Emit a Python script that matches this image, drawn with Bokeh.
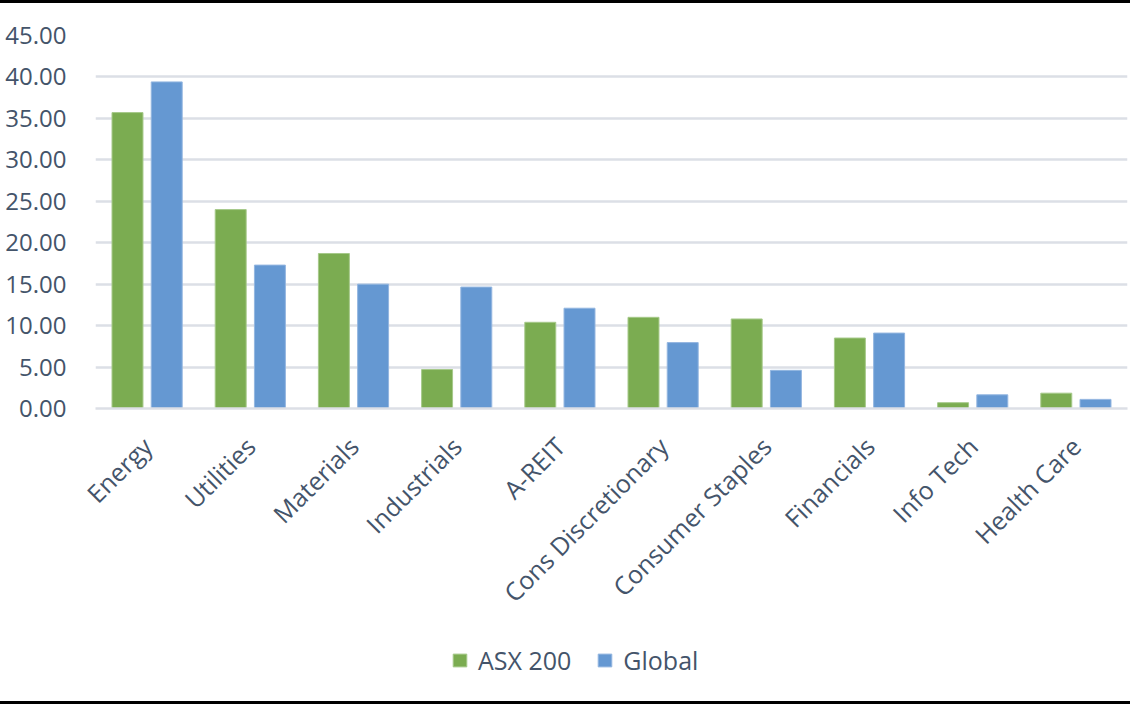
from bokeh.plotting import figure
from bokeh.models import ColumnDataSource, FactorRange, Range1d, NumeralTickFormatter, FixedTicker, Legend, LegendItem, Div
from bokeh.layouts import column
from bokeh.transform import dodge
from bokeh.embed import file_html
from bokeh.resources import INLINE
import math

categories = ["Energy", "Utilities", "Materials", "Industrials", "A-REIT",
              "Cons Discretionary", "Consumer Staples", "Financials", "Info Tech", "Health Care"]
asx200 = [35.7, 24.0, 18.7, 4.7, 10.4, 11.0, 10.8, 8.5, 0.7, 1.85]
global_ = [39.4, 17.3, 15.0, 14.65, 12.1, 7.95, 4.6, 9.1, 1.65, 1.1]
y_ticks = [0, 5, 10, 15, 20, 25, 30, 35, 40, 45]
series_names = ["ASX 200", "Global"]

FONT = "Open Sans"
TXT = "#44546A"
GREEN = "#7BAC51"
BLUE = "#6598D2"
GREEN_EDGE = "#A6C98A"
BLUE_EDGE = "#93B6E0"

src = ColumnDataSource(dict(cat=categories, asx=asx200, glob=global_))

p = figure(width=1130, height=620, x_range=FactorRange(*categories),
           y_range=Range1d(0, 45), output_backend="svg", toolbar_location=None,
           min_border_left=95, min_border_right=3, min_border_top=32, min_border_bottom=215)
p.outline_line_color = None
p.background_fill_color = "white"

r1 = p.vbar(x=dodge("cat", -0.19, range=p.x_range), top="asx", width=0.30, source=src,
            fill_color=GREEN, line_color=GREEN_EDGE, line_width=1)
r2 = p.vbar(x=dodge("cat", 0.19, range=p.x_range), top="glob", width=0.30, source=src,
            fill_color=BLUE, line_color=BLUE_EDGE, line_width=1)

p.xgrid.grid_line_color = None
p.ygrid.grid_line_color = "#DCDFE6"
p.ygrid.grid_line_width = 2.5
p.ygrid.ticker = FixedTicker(ticks=y_ticks)

p.yaxis.ticker = FixedTicker(ticks=y_ticks)
p.yaxis.formatter = NumeralTickFormatter(format="0.00")
p.yaxis.axis_line_color = None
p.yaxis.major_tick_line_color = None
p.yaxis.minor_tick_line_color = None
p.yaxis.major_tick_out = 0
p.yaxis.major_label_standoff = 29
p.yaxis.major_label_text_font = FONT
p.yaxis.major_label_text_font_size = "24px"
p.yaxis.major_label_text_color = TXT

p.xaxis.axis_line_color = "#DCDFE6"
p.xaxis.axis_line_width = 2.5
p.xaxis.major_tick_line_color = None
p.xaxis.minor_tick_line_color = None
p.xaxis.major_tick_out = 0
p.xaxis.major_label_orientation = math.pi / 4
p.xaxis.major_label_standoff = 33
p.xaxis.major_label_text_font = FONT
p.xaxis.major_label_text_font_size = "25px"
p.xaxis.major_label_text_color = TXT

# legend strip (same data; ranges keep the bars out of view so only the legend shows)
p2 = figure(width=1130, height=78, output_backend="svg", toolbar_location=None,
            min_border_left=0, min_border_right=0, min_border_top=0, min_border_bottom=0,
            x_range=FactorRange(*categories), y_range=Range1d(1000, 1001))
p2.axis.visible = False
p2.grid.visible = False
p2.outline_line_color = None
l1 = p2.vbar(x="cat", top="asx", width=0.3, source=src, fill_color=GREEN, line_color=GREEN_EDGE)
l2 = p2.vbar(x="cat", top="glob", width=0.3, source=src, fill_color=BLUE, line_color=BLUE_EDGE)
legend = Legend(items=[LegendItem(label=series_names[0], renderers=[l1]),
                       LegendItem(label=series_names[1], renderers=[l2])],
                orientation="horizontal", location=(356, 24),
                border_line_color=None, background_fill_alpha=0,
                padding=0, margin=0, spacing=25, glyph_width=17, glyph_height=16,
                label_text_font=FONT, label_text_font_size="25px", label_text_color=TXT,
                label_standoff=10)
p2.add_layout(legend, "center")

top_line = Div(text="", width=1130, height=3, margin=0, styles={"background-color": "black"})
bottom_line = Div(text="", width=1130, height=3, margin=0, styles={"background-color": "black"})

layout = column(top_line, p, p2, bottom_line, spacing=0)
open("out.html", "w").write(file_html(layout, INLINE))
